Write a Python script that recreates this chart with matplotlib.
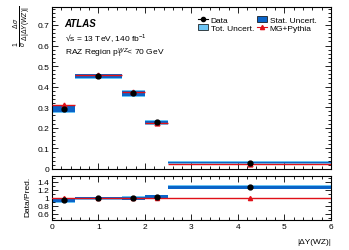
import matplotlib
matplotlib.use("Agg")
import matplotlib.pyplot as plt
import numpy as np
from matplotlib.patches import Patch
from matplotlib.lines import Line2D
from matplotlib.ticker import MultipleLocator

bin_edges = [0.0, 0.5, 1.5, 2.0, 2.5, 6.0]
data_vals = [0.292, 0.451, 0.367, 0.226, 0.031]
data_stat = [0.014, 0.009, 0.012, 0.009, 0.004]
data_tot = [0.018, 0.012, 0.016, 0.012, 0.006]
mc_vals = [0.310, 0.457, 0.372, 0.222, 0.025]
ratio_vals = [0.945, 0.990, 0.990, 1.025, 1.265]
ratio_stat = [0.055, 0.028, 0.040, 0.050, 0.040]
ratio_tot = [0.065, 0.035, 0.050, 0.060, 0.050]

plt.rcParams['font.family'] = ['Liberation Sans', 'DejaVu Sans']
plt.rcParams['mathtext.fontset'] = 'custom'
plt.rcParams['mathtext.rm'] = 'Liberation Sans'
plt.rcParams['mathtext.it'] = 'Liberation Sans:italic'
plt.rcParams['mathtext.bf'] = 'Liberation Sans:bold'

fig = plt.figure(figsize=(3.49, 2.51), dpi=100)
ax = fig.add_axes([0.149, 0.323, 0.799, 0.644])
rx = fig.add_axes([0.149, 0.120, 0.799, 0.175])

stat_col = '#0a64c8'
tot_col = '#6cc4f4'
red = '#e01018'

edges = np.array(bin_edges)
lo = edges[:-1]
hi = edges[1:]
cen = (lo + hi) / 2
w = hi - lo

for a, vals, st, tt in [(ax, data_vals, data_stat, data_tot), (rx, ratio_vals, ratio_stat, ratio_tot)]:
    v = np.array(vals); st = np.array(st); tt = np.array(tt)
    a.bar(lo, 2 * tt, bottom=v - tt, width=w, align='edge', color=tot_col, lw=0, zorder=1)
    a.bar(lo, 2 * st, bottom=v - st, width=w, align='edge', color=stat_col, lw=0, zorder=2)

# MC
ax.hlines(mc_vals, lo, hi, color=red, lw=1.0, zorder=3)
ax.plot(cen, mc_vals, '^', color=red, ms=3.5, zorder=4)
ax.plot(cen, data_vals, 'o', color='black', ms=3.5, zorder=5)

rx.axhline(1.0, color=red, lw=1.0, zorder=3)
rx.errorbar(cen, np.ones(len(cen)), yerr=0.03, fmt='^', color=red, ms=3.0, lw=0.8, zorder=4)
rx.plot(cen, ratio_vals, 'o', color='black', ms=3.5, zorder=5)

ax.set_xlim(0, 6)
ax.set_ylim(0, 0.786)
rx.set_xlim(0, 6)
rx.set_ylim(0.45, 1.55)

for a in (ax, rx):
    a.tick_params(direction='in', which='both', top=True, right=True, labelsize=6, pad=2)
    a.tick_params(which='major', length=4, width=0.6)
    a.tick_params(which='minor', length=2, width=0.6)
    a.xaxis.set_major_locator(MultipleLocator(1))
    a.xaxis.set_minor_locator(MultipleLocator(0.2))
    for s in a.spines.values():
        s.set_linewidth(0.8)
ax.yaxis.set_major_locator(MultipleLocator(0.1))
ax.yaxis.set_minor_locator(MultipleLocator(0.02))
ax.set_xticklabels([])
yt = [0, 0.1, 0.2, 0.3, 0.4, 0.5, 0.6, 0.7]
ax.set_yticks(yt)
ax.set_yticklabels(['0', '0.1', '0.2', '0.3', '0.4', '0.5', '0.6', '0.7'])
rx.set_yticks([0.6, 0.8, 1.0, 1.2, 1.4])
rx.set_yticklabels(['0.6', '0.8', '1', '1.2', '1.4'])
rx.yaxis.set_minor_locator(MultipleLocator(0.1))

fig.text(22 / 349, 1 - 26 / 251, r'$\frac{1}{\sigma}\,\frac{\Delta\sigma}{\Delta|\Delta Y(WZ)|}$',
         fontsize=7, rotation=90, ha='center', va='center')
fig.text(28 / 349, 1 - 197 / 251, 'Data/Pred.', fontsize=6, rotation=90, ha='center', va='center')
rx.set_xlabel('|ΔY(WZ)|', fontsize=6, loc='right', labelpad=6)

ax.text(0.045, 0.935, 'ATLAS', transform=ax.transAxes, fontsize=7, fontweight='bold', style='italic', va='top')
ax.text(0.045, 0.855, '√s = 13 TeV, 140 fb$^{-1}$', transform=ax.transAxes, fontsize=6, va='top')
ax.text(0.045, 0.765, r'RAZ Region p$_\mathrm{T}^{WZ}$< 70 GeV', transform=ax.transAxes, fontsize=6, va='top')

h_data = Line2D([], [], color='black', marker='o', ms=3, lw=0.8)
h_stat = Patch(facecolor=stat_col, edgecolor='black', lw=0.5)
h_tot = Patch(facecolor=tot_col, edgecolor='black', lw=0.5)
h_mc = Line2D([], [], color=red, marker='^', ms=3, lw=0.8)
ax.legend([h_data, h_tot, h_stat, h_mc], ['Data', 'Tot. Uncert.', 'Stat. Uncert.', 'MG+Pythia'],
          ncol=2, loc='upper right', bbox_to_anchor=(0.97, 0.985), fontsize=6,
          frameon=False, handlelength=1.2, handleheight=0.8, columnspacing=0.4, labelspacing=0.05,
          handletextpad=0.3, borderpad=0.2)

fig.savefig('out.png', dpi=100)
